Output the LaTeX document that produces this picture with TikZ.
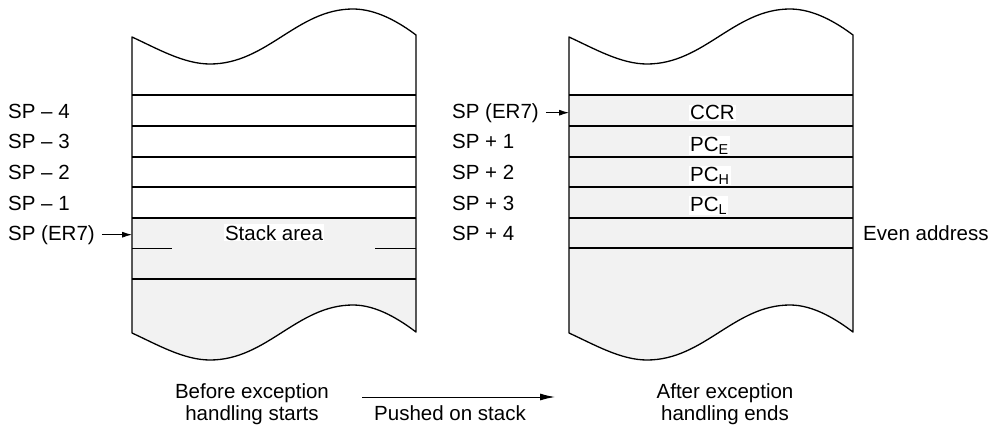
\documentclass[tikz,border=0pt]{standalone}
\usepackage{fontspec}
\setmainfont{Liberation Sans}
\usetikzlibrary{arrows.meta}
\definecolor{stackgray}{HTML}{F2F2F2}

\begin{document}
\begin{tikzpicture}[x=1pt, y=-1pt,
    every node/.style={font=\fontsize{20.5}{22}\selectfont, inner sep=0pt},
    outline/.style={draw=black, line width=1.3pt, line join=round},
    rowline/.style={draw=black, line width=1.1pt},
    halfline/.style={draw=black, line width=0.6pt},
    sptext/.style={anchor=base west},
    celltext/.style={fill=white, inner sep=1pt},
    ptr/.style={-{Latex[length=10pt, width=6pt]}, line width=0.8pt},
    pushptr/.style={-{Latex[length=15pt, width=7pt]}, line width=1pt}]

    \useasboundingbox (0,0) rectangle (1005,428);

    % ========== 左：异常处理开始前 ==========
    \begin{scope}[shift={(132,0)}]

      % 栈区（灰色部分）
      \fill[stackgray] (0,218) -- (284,218) -- (284,332)
           .. controls (268,320) and (245,305) .. (221,305)
           .. controls (165,305) and (135,360) .. (78,360)
           .. controls (52,360) and (26,345) .. (0,333) -- cycle;

      % 外框：上下都是波浪线
      \draw[outline] (0,37)
           .. controls (26,49) and (52,64) .. (78,64)
           .. controls (135,64) and (165,9) .. (221,9)
           .. controls (245,9) and (268,23) .. (284,35)
           -- (284,332)
           .. controls (268,320) and (245,305) .. (221,305)
           .. controls (165,305) and (135,360) .. (78,360)
           .. controls (52,360) and (26,345) .. (0,333) -- cycle;

      % 各行分隔线
      \foreach \y in {95,126,157,187,218,279}
        \draw[rowline] (0,\y) -- (284,\y);
      \draw[halfline] (0,248) -- (40,248);
      \draw[halfline] (243,248) -- (284,248);

      \node[celltext, anchor=base] (stack) at (142,240) {Stack area};
      \coordinate (colL) at (0,0);
    \end{scope}

    % 左侧地址标注
    \node[sptext] (m4) at (8,118) {SP -- 4};
    \node[sptext] (m3) at (8,149) {SP -- 3};
    \node[sptext] (m2) at (8,179) {SP -- 2};
    \node[sptext] (m1) at (8,210) {SP -- 1};
    \node[sptext] (spL) at (8,240) {SP (ER7)};
    \draw[ptr] ([xshift=7pt]spL.east) -- (spL.east -| colL);

    % ========== 右：异常处理结束后 ==========
    \begin{scope}[shift={(569,0)}]

      \fill[stackgray] (0,95) -- (284,95) -- (284,332)
           .. controls (268,320) and (245,305) .. (221,305)
           .. controls (165,305) and (135,360) .. (78,360)
           .. controls (52,360) and (26,345) .. (0,333) -- cycle;

      \draw[outline] (0,37)
           .. controls (26,49) and (52,64) .. (78,64)
           .. controls (135,64) and (165,9) .. (221,9)
           .. controls (245,9) and (268,23) .. (284,35)
           -- (284,332)
           .. controls (268,320) and (245,305) .. (221,305)
           .. controls (165,305) and (135,360) .. (78,360)
           .. controls (52,360) and (26,345) .. (0,333) -- cycle;

      \foreach \y in {95,126,157,187,218,248}
        \draw[rowline] (0,\y) -- (284,\y);

      % 压栈的内容
      \node[celltext, anchor=base west] (ccr) at (120,120) {CCR};
      \node[celltext, anchor=base west] (pce) at (120,151) {PC\textsubscript{E}};
      \node[celltext, anchor=base west] (pch) at (120,181) {PC\textsubscript{H}};
      \node[celltext, anchor=base west] (pcl) at (120,211) {PC\textsubscript{L}};
      \coordinate (colR) at (0,0);
    \end{scope}

    % 右侧地址标注
    \node[sptext] (spR) at (452,118) {SP (ER7)};
    \node[sptext] (p1) at (452,149) {SP + 1};
    \node[sptext] (p2) at (452,179) {SP + 2};
    \node[sptext] (p3) at (452,210) {SP + 3};
    \node[sptext] (p4) at (452,240) {SP + 4};
    \draw[ptr] ([xshift=7pt]spR.east) -- (spR.east -| colR);
    \node[sptext] (even) at (863,240) {Even address};

    % ========== 下：说明文字 ==========
    \node[anchor=north, align=center] (before) at (252,383)
         {Before exception\\handling starts};
    \node[anchor=north, align=center] (after) at (725,383)
         {After exception\\handling ends};

    \coordinate (pushS) at (362,397);
    \coordinate (pushE) at (555,397);
    \draw[pushptr] (pushS) -- (pushE);
    \node[anchor=base] (pushed) at (450,420) {Pushed on stack};

\end{tikzpicture}
\end{document}
